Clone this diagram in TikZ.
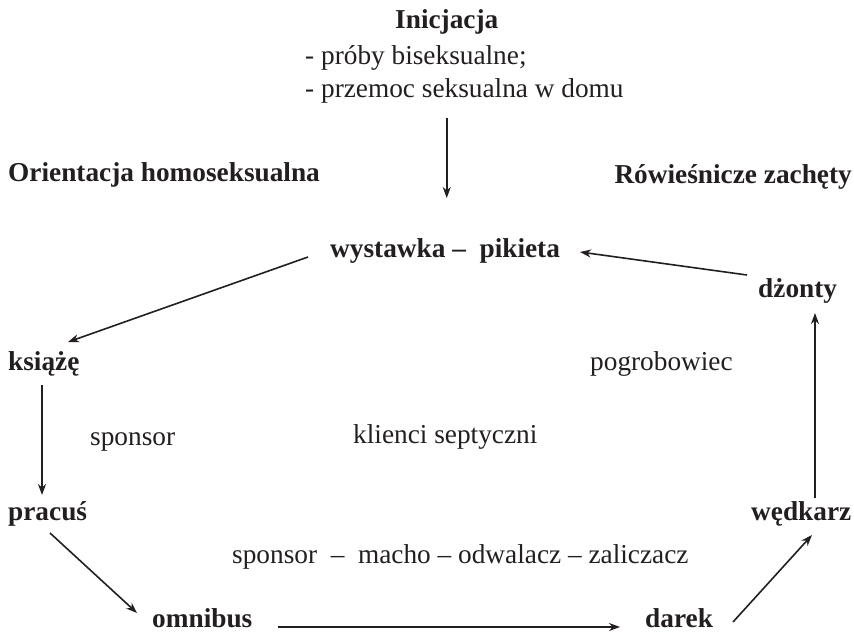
\documentclass[tikz,border=0pt]{standalone}
\usepackage{fontspec}
\setmainfont{Liberation Serif}
\usetikzlibrary{arrows.meta,calc}
\definecolor{ink}{RGB}{35,31,32}
\begin{document}
\begin{tikzpicture}[x=1pt,y=-1pt,
  lbl/.style={inner sep=0pt,anchor=base west,text=ink,font=\fontsize{27.3}{32}\selectfont},
  bl/.style={lbl,font=\fontsize{27.3}{32}\selectfont\bfseries},
  arr/.style={draw=ink,line width=1.6pt,-{Stealth[length=11pt,width=8pt,inset=3.5pt]}}]
\useasboundingbox[fill=white] (0,0) rectangle (854,634);
\node[bl]  (ini) at (395,29) {Inicjacja};
\node[lbl] (l1)  at (305,65) {- próby biseksualne;};
\node[lbl] (l2)  at (305,97) {- przemoc seksualna w domu};
\node[bl]  (ori) at (8,181) {Orientacja homoseksualna};
\node[bl,anchor=base east] (row) at (852,183) {Rówieśnicze zachęty};
\node[bl]  (wyst) at (330,257) {wystawka –\ \ pikieta};
\node[bl]  (dz)  at (758,297) {dżonty};
\node[bl]  (ks)  at (8,370) {książę};
\node[lbl] (pog) at (590,370) {pogrobowiec};
\node[lbl] (sp1) at (90,445) {sponsor};
\node[lbl] (kl)  at (353,443) {klienci septyczni};
\node[bl]  (pr)  at (8,520) {pracuś};
\node[bl]  (wed) at (751,520) {wędkarz};
\node[lbl] (mid) at (232,563) {sponsor \ – \ macho – odwalacz – zaliczacz};
\node[bl]  (om)  at (152,627) {omnibus};
\node[bl]  (dar) at (645,627) {darek};
% connectors
\draw[arr] ($(ini.base)+(0,89)$) -- ($(ini.base)+(0,169)$);
\draw[arr] ($(wyst.base west)+(-22,0)$) -- ($(ks.base west)+(60,-28)$);
\draw[arr] ($(ks.base west)+(34,15)$) -- ($(pr.base west)+(34,-25)$);
\draw[arr] ($(pr.base west)+(42,13)$) -- ($(om.base west)+(-15,-14)$);
\draw[arr] ($(om.base west)+(126,0)$) -- ($(dar.base west)+(-25,0)$);
\draw[arr] ($(dar.base west)+(88,-5)$) -- ($(wed.base west)+(61,15)$);
\draw[arr] ($(wed.base west)+(64,-22)$) -- ($(dz.base west)+(57,16)$);
\draw[arr] ($(dz.base west)+(-11,-22)$) -- ($(wyst.base west)+(250,-5)$);
\end{tikzpicture}
\end{document}
